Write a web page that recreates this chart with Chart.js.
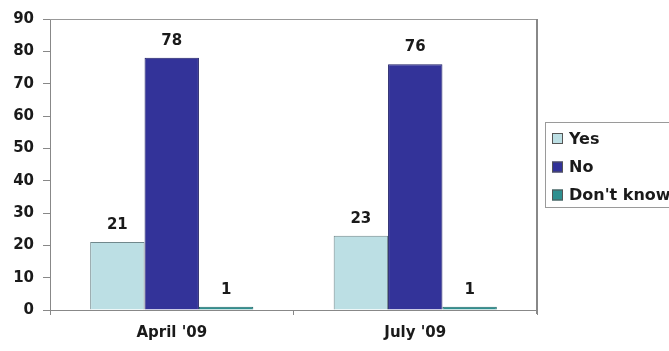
<!DOCTYPE html>
<html>
<head>
<meta charset="utf-8">
<script src="https://cdn.jsdelivr.net/npm/chart.js@4/dist/chart.umd.min.js"></script>
<style>
html,body{margin:0;padding:0;background:#fff;overflow:hidden;}
#wrap{width:669px;height:351px;position:relative;}
</style>
</head>
<body>
<div id="wrap"><canvas id="c" width="669" height="351"></canvas></div>
<script>
const categories = ["April '09", "July '09"];
const seriesNames = ["Yes", "No", "Don't know"];
const yesValues = [21, 23];
const noValues = [78, 76];
const dontKnowValues = [1, 1];
const yMin = 0, yMax = 90, yStep = 10;

const FONT = "'DejaVu Sans', 'Liberation Sans', Arial, sans-serif";
const fills = ["#BCDFE4", "#333399", "#2F8F8F"];
const borders = ["#71888C", "#1E1E66", "#236B6B"];

const valueLabels = {
  id: 'valueLabels',
  afterDatasetsDraw(chart) {
    const ctx = chart.ctx;
    ctx.save();
    ctx.font = "bold 15px " + FONT;
    ctx.fillStyle = "#1a1a1a";
    ctx.textAlign = "center";
    ctx.textBaseline = "middle";
    chart.data.datasets.forEach((ds, i) => {
      chart.getDatasetMeta(i).data.forEach((bar, j) => {
        ctx.fillText(String(ds.data[j]), bar.x, bar.y - 17);
      });
    });
    ctx.restore();
  }
};

const frame = {
  id: 'frame',
  afterDraw(chart) {
    const ctx = chart.ctx, a = chart.chartArea;
    ctx.save();
    ctx.strokeStyle = "#999";
    ctx.lineWidth = 1;
    ctx.beginPath();
    ctx.moveTo(a.left, a.top + 0.5);
    ctx.lineTo(a.right, a.top + 0.5);
    ctx.stroke();
    ctx.strokeStyle = "#888";
    ctx.lineWidth = 2;
    ctx.beginPath();
    ctx.moveTo(a.right, a.top);
    ctx.lineTo(a.right, a.bottom + 4);
    ctx.stroke();
    // legend
    const lx = 545.5, ly = 122.5, lw = 140, lh = 85;
    ctx.lineWidth = 1;
    ctx.strokeStyle = "#9a9a9a";
    ctx.fillStyle = "#fff";
    ctx.fillRect(lx, ly, lw, lh);
    ctx.strokeRect(lx, ly, lw, lh);
    ctx.font = "bold 16px " + FONT;
    ctx.textBaseline = "middle";
    ctx.textAlign = "left";
    const ys = [138.5, 167, 195];
    chart.data.datasets.forEach((ds, i) => {
      const y = ys[i];
      ctx.fillStyle = ds.backgroundColor;
      ctx.fillRect(552, y - 5.5, 11, 11);
      ctx.strokeStyle = "#555";
      ctx.strokeRect(552.5, y - 5, 10, 10);
      ctx.fillStyle = "#1a1a1a";
      ctx.fillText(ds.label, 569, y + 1);
    });
    ctx.restore();
  }
};

new Chart(document.getElementById('c'), {
  type: 'bar',
  data: {
    labels: categories,
    datasets: [
      { label: seriesNames[0], data: yesValues, backgroundColor: fills[0], borderColor: borders[0], borderWidth: 1 },
      { label: seriesNames[1], data: noValues, backgroundColor: fills[1], borderColor: borders[1], borderWidth: 1 },
      { label: seriesNames[2], data: dontKnowValues, backgroundColor: fills[2], borderColor: borders[2], borderWidth: 1 }
    ]
  },
  options: {
    responsive: false,
    animation: false,
    devicePixelRatio: 1,
    layout: { padding: { left: 0, top: 19, right: 132, bottom: 0 } },
    datasets: { bar: { categoryPercentage: 0.67, barPercentage: 1.0 } },
    plugins: { legend: { display: false }, tooltip: { enabled: false } },
    scales: {
      x: {
        afterFit(s) { s.height = 41; },
        grid: { display: true, drawOnChartArea: false, offset: true, color: "#888", tickLength: 5 },
        border: { color: "#888", width: 1 },
        ticks: { color: "#1a1a1a", font: { family: FONT, size: 15, weight: 'bold' }, padding: 9 }
      },
      y: {
        min: yMin, max: yMax,
        afterFit(s) { s.width = 50; },
        grid: { display: true, drawOnChartArea: false, color: "#888", tickLength: 7 },
        border: { color: "#888", width: 1 },
        ticks: { stepSize: yStep, color: "#1a1a1a", font: { family: FONT, size: 15, weight: 'bold' }, padding: 9 }
      }
    }
  },
  plugins: [valueLabels, frame]
});
</script>
</body>
</html>
